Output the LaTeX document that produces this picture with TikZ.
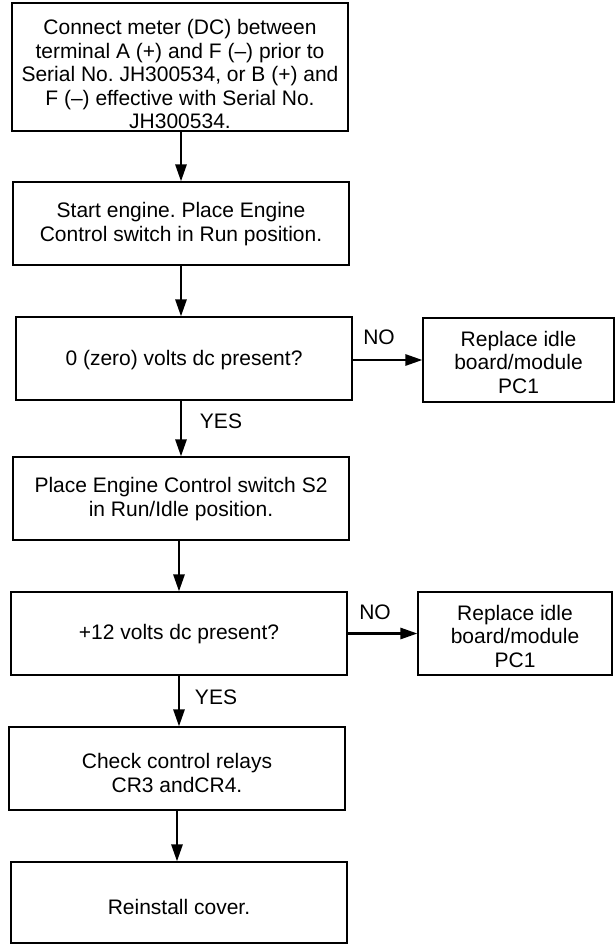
\documentclass[tikz,border=0pt]{standalone}
\usepackage{fontspec}
\setmainfont{Liberation Sans}
\usetikzlibrary{arrows.meta}
\frenchspacing
\begin{document}
\begin{tikzpicture}[x=1pt,y=-1pt,
  box/.style={draw, line width=1.1pt, rectangle, inner sep=0pt},
  txt/.style={align=center, inner sep=0pt, font=\fontsize{21}{23.5}\selectfont},
  lbl/.style={inner sep=0pt, font=\fontsize{21}{23.5}\selectfont},
  flow/.style={line width=2.6pt, -{Triangle[length=17pt,width=11pt]}}]
\useasboundingbox (0,0) rectangle (615,944);
% boxes
\node[box, minimum width=336pt, minimum height=128pt] (b1) at (180,67) {};
\node[txt] (t1) at (180,74) {Connect meter (DC) between\\terminal A (+) and F (–) prior to\\Serial No. JH300534, or B (+) and\\F (–) effective with Serial No.\\JH300534.};
\node[box, minimum width=336pt, minimum height=83pt] (b2) at (181,223.5) {};
\node[txt] (t2) at (181,224) {Start engine. Place Engine\\Control switch in Run position.};
\node[box, minimum width=336pt, minimum height=83pt] (b3) at (184,358.5) {};
\node[txt] (t3) at (184,360) {0 (zero) volts dc present?};
\node[box, minimum width=191pt, minimum height=84pt] (r1) at (518.5,360) {};
\node[txt] (tr1) at (518.5,362) {Replace idle\\board/module\\PC1};
\node[box, minimum width=336pt, minimum height=83pt] (b4) at (181,498.5) {};
\node[txt] (t4) at (181,499) {Place Engine Control switch S2\\in Run/Idle position.};
\node[box, minimum width=336pt, minimum height=83pt] (b5) at (179,633.5) {};
\node[txt] (t5) at (179,634) {+12 volts dc present?};
\node[box, minimum width=194pt, minimum height=83pt] (r2) at (515,633.5) {};
\node[txt] (tr2) at (515,636) {Replace idle\\board/module\\PC1};
\node[box, minimum width=336pt, minimum height=83pt] (b6) at (177,768.5) {};
\node[txt] (t6) at (177,773) {Check control relays\\CR3 andCR4.};
\node[box, minimum width=336pt, minimum height=81pt] (b7) at (179,902.5) {};
\node[txt] (t7) at (179,907) {Reinstall cover.};
% connectors
\draw[flow] (181,131) coordinate (a1) -- (a1 |- b2.north);
\draw[flow] (181,265) coordinate (a2) -- (a2 |- b3.north);
\draw[flow] (181,400) coordinate (a3) -- (a3 |- b4.north);
\draw[flow] (179,540) coordinate (a4) -- (a4 |- b5.north);
\draw[flow] (179,675) coordinate (a5) -- (a5 |- b6.north);
\draw[flow] (177,810) coordinate (a6) -- (a6 |- b7.north);
\draw[flow] (b3.east |- r1.west) -- (r1.west);
\draw[flow] (b5.east) -- (r2.west);
% labels
\node[lbl] (no1) at (379,337) {NO};
\node[lbl] (no2) at (375,612) {NO};
\node[lbl] (yes1) at (221,421) {YES};
\node[lbl] (yes2) at (216,697) {YES};
\end{tikzpicture}
\end{document}
